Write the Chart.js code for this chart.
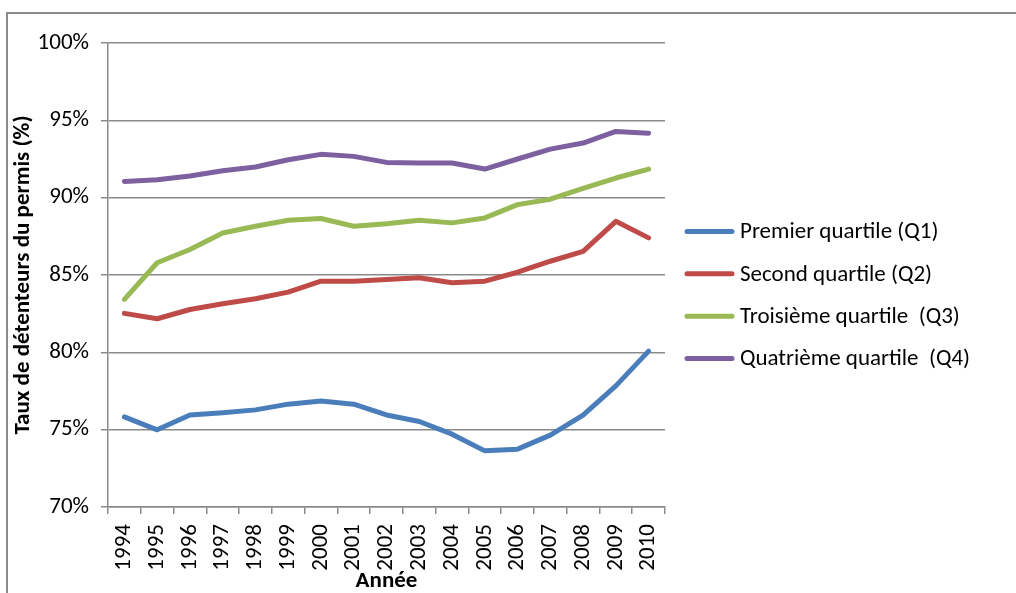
<!DOCTYPE html>
<html lang="fr">
<head>
<meta charset="utf-8">
<title>Taux de détenteurs du permis</title>
<script src="https://cdn.jsdelivr.net/npm/chart.js@4.4.1/dist/chart.umd.min.js"></script>
<style>
    body { margin: 0; background: #fff; }
    #wrap { position: relative; width: 1016px; height: 593px; overflow: hidden; }
    #cadre { position: absolute; left: 6px; top: 12px; right: -4px; bottom: -4px;
             border-top: 2px solid #8c8c8c; border-left: 2px solid #8c8c8c; }
    canvas { position: absolute; left: 0; top: 0; }
</style>
</head>
<body>
<div id="wrap">
    <div id="cadre"></div>
    <canvas id="permisChart" width="1016" height="593"></canvas>
</div>
<script>
// Données
const annees = ['1994', '1995', '1996', '1997', '1998', '1999', '2000', '2001', '2002',
                '2003', '2004', '2005', '2006', '2007', '2008', '2009', '2010'];

const premierQuartile = [75.83, 74.99, 75.95, 76.10, 76.28, 76.65, 76.86, 76.65, 75.95,
                         75.53, 74.71, 73.63, 73.74, 74.65, 75.94, 77.83, 80.08];
const secondQuartile = [82.52, 82.17, 82.77, 83.14, 83.46, 83.89, 84.60, 84.60, 84.71,
                        84.82, 84.50, 84.60, 85.18, 85.89, 86.53, 88.47, 87.40];
const troisiemeQuartile = [83.42, 85.79, 86.65, 87.72, 88.15, 88.54, 88.65, 88.15, 88.32,
                           88.54, 88.37, 88.69, 89.55, 89.90, 90.60, 91.27, 91.85];
const quatriemeQuartile = [91.05, 91.16, 91.40, 91.74, 91.98, 92.45, 92.80, 92.67, 92.28,
                           92.24, 92.24, 91.85, 92.50, 93.14, 93.53, 94.28, 94.17];

const nomsSeries = ['Premier quartile (Q1)', 'Second quartile (Q2)',
                    'Troisième quartile  (Q3)', 'Quatrième quartile  (Q4)'];
const couleurs = ['#4a7ebb', '#be4b48', '#98b954', '#7d60a0'];

const police = 'Carlito, Lato, sans-serif';
const taillePolice = 23;
const gris = '#8a8a8a';

const series = [premierQuartile, secondQuartile, troisiemeQuartile, quatriemeQuartile];

const datasets = series.map((valeurs, i) => ({
    label: nomsSeries[i],
    data: valeurs,
    borderColor: couleurs[i],
    backgroundColor: couleurs[i],
    borderWidth: 5,
    borderCapStyle: 'round',
    borderJoinStyle: 'round',
    pointRadius: 0,
    pointHoverRadius: 0,
    tension: 0
}));

// Légende dessinée à droite (la légende intégrée est limitée en largeur)
const legendeDroite = {
    id: 'legendeDroite',
    afterDraw(chart) {
        const c = chart.ctx;
        const area = chart.chartArea;
        const pas = 42.4;
        const n = chart.data.datasets.length;
        const y0 = 295 - pas * (n - 1) / 2;
        const x0 = area.right + 22;
        c.save();
        c.font = taillePolice + 'px ' + police;
        c.textBaseline = 'middle';
        c.textAlign = 'left';
        chart.data.datasets.forEach((ds, i) => {
            const y = y0 + i * pas;
            c.strokeStyle = ds.borderColor;
            c.lineWidth = 5;
            c.lineCap = 'round';
            c.beginPath();
            c.moveTo(x0, y);
            c.lineTo(x0 + 45, y);
            c.stroke();
            c.fillStyle = '#000';
            c.fillText(ds.label, x0 + 53, y + 1);
        });
        c.restore();
    }
};

const config = {
    type: 'line',
    data: {
        labels: annees,
        datasets: datasets
    },
    options: {
        responsive: false,
        animation: false,
        layout: {
            padding: { top: 43, left: 8, right: 351, bottom: 0 }
        },
        plugins: {
            tooltip: { enabled: false },
            legend: { display: false }
        },
        scales: {
            x: {
                offset: true,
                grid: {
                    offset: true,
                    drawOnChartArea: false,
                    drawTicks: true,
                    tickLength: 7,
                    color: gris,
                    lineWidth: 1.5
                },
                border: { color: gris, width: 1.5 },
                ticks: {
                    minRotation: 90,
                    maxRotation: 90,
                    autoSkip: false,
                    padding: 10,
                    color: '#000',
                    font: { family: police, size: taillePolice }
                },
                title: {
                    display: true,
                    text: 'Année',
                    color: '#000',
                    padding: { top: 0, bottom: 0 },
                    font: { family: police, size: taillePolice, weight: 'bold', lineHeight: 1 }
                },
                afterFit: function(scale) {
                    scale.height = 86;
                }
            },
            y: {
                min: 70,
                max: 100,
                ticks: {
                    stepSize: 5,
                    padding: 12,
                    color: '#000',
                    font: { family: police, size: taillePolice },
                    callback: function(value) {
                        return value + '%';
                    }
                },
                grid: {
                    color: gris,
                    lineWidth: 1.5,
                    tickLength: 7
                },
                border: { color: gris, width: 1.5 },
                title: {
                    display: true,
                    text: 'Taux de détenteurs du permis (%)',
                    color: '#000',
                    padding: { top: 1, bottom: 0 },
                    font: { family: police, size: taillePolice, weight: 'bold' }
                },
                afterFit: function(scale) {
                    scale.width = 100;
                }
            }
        }
    },
    plugins: [legendeDroite]
};

// Dessiner le graphique
const ctx = document.getElementById('permisChart').getContext('2d');
const permisChart = new Chart(ctx, config);
</script>
</body>
</html>
